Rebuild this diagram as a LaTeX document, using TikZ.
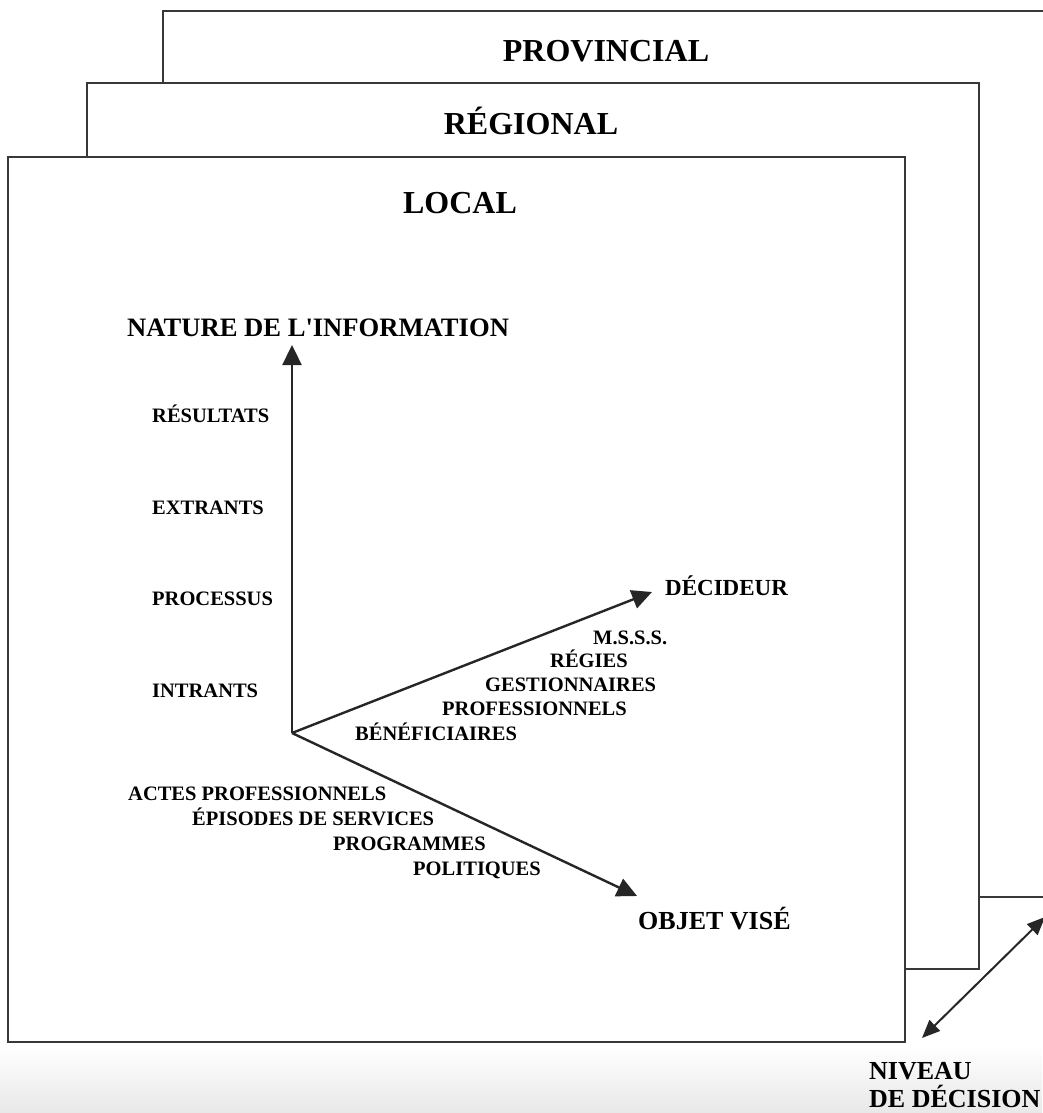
\documentclass[tikz,border=0pt]{standalone}
\usepackage{fontspec}
\setmainfont{Liberation Serif}
\usetikzlibrary{arrows.meta}
\begin{document}
\begin{tikzpicture}[x=1pt,y=-1pt,
  boxline/.style={draw=black!78, line width=2.6pt, fill=white},
  axis/.style={draw=black!85, line width=2.4pt, -{Triangle[length=20pt,width=19pt]}},
  lvl/.style={font=\bfseries\fontsize{32}{36}\selectfont, inner sep=0pt, anchor=base},
  axt/.style={font=\bfseries\fontsize{26}{30}\selectfont, inner sep=0pt, anchor=base west},
  lbl/.style={font=\bfseries\fontsize{20.5}{24}\selectfont, inner sep=0pt, anchor=base west}]
\useasboundingbox (0,0) rectangle (1042,1113);
% page background with scan band
\fill[white] (0,0) rectangle (1042,1113);
\shade[top color=white, bottom color=black!9] (0,1045) rectangle (1042,1113);
% level boxes
\draw[boxline] (163,11) rectangle (1075,897);
\draw[boxline] (87,83) rectangle (979,969);
\draw[boxline] (8,157) rectangle (905,1042);
\node[lvl] (prov) at (606,62) {PROVINCIAL};
\node[lvl] (reg) at (531,135) {RÉGIONAL};
\node[lvl] (loc) at (460,213) {LOCAL};
% axes
\coordinate (O) at (292,733);
\coordinate (tN) at (292,345);
\coordinate (tD) at (652,592);
\coordinate (tO) at (637,896);
\draw[axis] (O) -- (tN);
\draw[axis] (O) -- (tD);
\draw[axis] (O) -- (tO);
\node[axt, font=\bfseries\fontsize{26.6}{30}\selectfont] (nat) at (127,336) {NATURE DE L\textquotesingle INFORMATION};
\node[axt, font=\bfseries\fontsize{23}{27}\selectfont] (dec) at (665,595) {DÉCIDEUR};
\node[axt] (obj) at (638,929) {OBJET VISÉ};
% nature labels
\node[lbl] (res) at (152,422) {RÉSULTATS};
\node[lbl] (ext) at (152,514) {EXTRANTS};
\node[lbl] (pro) at (152,605) {PROCESSUS};
\node[lbl] (int) at (152,697) {INTRANTS};
% decideur labels
\node[lbl] (msss) at (593,644) {M.S.S.S.};
\node[lbl] (regi) at (550,667) {RÉGIES};
\node[lbl] (gest) at (485,691) {GESTIONNAIRES};
\node[lbl] (prof) at (442,715) {PROFESSIONNELS};
\node[lbl] (bene) at (355,740) {BÉNÉFICIAIRES};
% objet labels
\node[lbl] (actes) at (128,800) {ACTES PROFESSIONNELS};
\node[lbl] (epis) at (192,825) {ÉPISODES DE SERVICES};
\node[lbl] (prog) at (333,850) {PROGRAMMES};
\node[lbl] (poli) at (413,875) {POLITIQUES};
% niveau de decision
\coordinate (n1) at (1045,917);
\coordinate (n2) at (922,1038);
\draw[draw=black!85, line width=2pt, {Triangle[length=18pt,width=15pt]}-{Triangle[length=18pt,width=15pt]}] (n2) -- (n1);
\node[axt] (niv1) at (869,1079) {NIVEAU};
\node[axt] (niv2) at (869,1107) {DE DÉCISION};
\end{tikzpicture}
\end{document}
